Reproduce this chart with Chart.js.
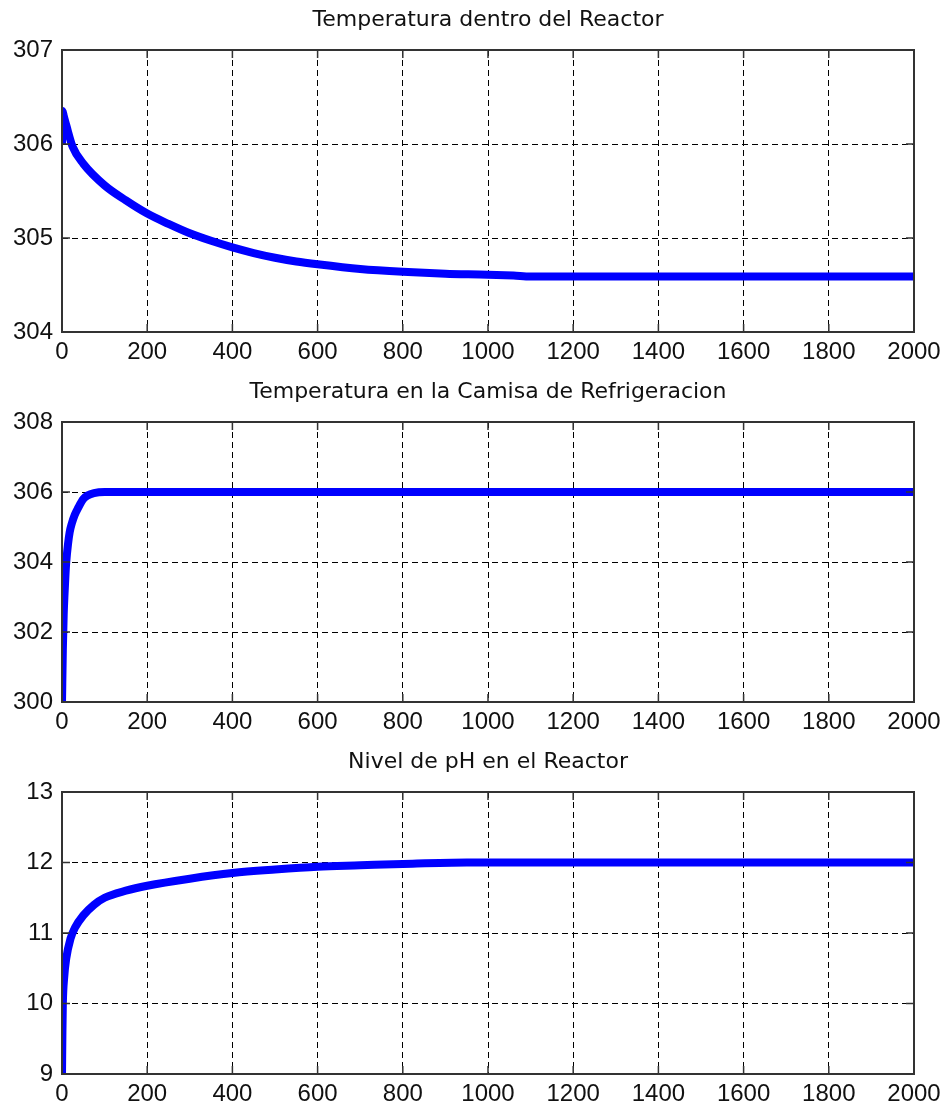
<!DOCTYPE html>
<html>
<head>
<meta charset="utf-8">
<script src="https://cdn.jsdelivr.net/npm/chart.js@4/dist/chart.umd.min.js"></script>
<style>
  body { margin: 0; background: #fff; }
  .box { position: absolute; left: 0; width: 944px; }
</style>
</head>
<body>
<div class="box" style="top:0px;height:370px"><canvas id="c1"></canvas></div>
<div class="box" style="top:372px;height:370px"><canvas id="c2"></canvas></div>
<div class="box" style="top:742px;height:367px"><canvas id="c3"></canvas></div>
<script>
// reactor temperature
var tReactor = [0, 1, 4, 10, 25, 50, 100, 150, 200, 250, 300, 350, 400, 450, 500, 550, 600, 700, 800, 900, 1000, 1060, 1100, 1200, 1400, 1600, 1800, 2000];
var tempReactor = [306.0, 306.35, 306.3, 306.2, 305.97, 305.79, 305.56, 305.4, 305.26, 305.15, 305.05, 304.97, 304.9, 304.84, 304.79, 304.75, 304.72, 304.67, 304.64, 304.62, 304.61, 304.6, 304.59, 304.59, 304.59, 304.59, 304.59, 304.59];

// cooling jacket temperature
var tJacket = [0, 2, 4, 6, 8, 10, 14, 18, 23, 30, 38, 50, 60, 75, 100, 2000];
var tempJacket = [300, 301.5, 302.5, 303.1, 303.6, 304.0, 304.5, 304.85, 305.1, 305.35, 305.55, 305.8, 305.9, 305.97, 306, 306];

// pH
var tPh = [0, 1, 2, 5, 10, 20, 30, 50, 75, 100, 150, 200, 300, 400, 500, 600, 700, 800, 950, 1200, 2000];
var phLevel = [9.0, 9.6, 10.0, 10.36, 10.64, 10.92, 11.07, 11.25, 11.4, 11.5, 11.6, 11.67, 11.77, 11.85, 11.9, 11.94, 11.96, 11.98, 12.0, 12.0, 12.0];

var xTicks = [0, 200, 400, 600, 800, 1000, 1200, 1400, 1600, 1800, 2000];

var titles = ['Temperatura dentro del Reactor', 'Temperatura en la Camisa de Refrigeracion', 'Nivel de pH en el Reactor'];

// box + inner ticks like matlab
var boxPlugin = {
  id: 'box',
  afterDraw: function(chart) {
    var a = chart.chartArea, ctx = chart.ctx;
    var xs = chart.scales.x, ys = chart.scales.y;
    ctx.save();
    ctx.strokeStyle = '#333';
    ctx.lineWidth = 2;
    ctx.strokeRect(a.left, a.top, a.right - a.left, a.bottom - a.top);
    ctx.lineWidth = 1.5;
    ctx.beginPath();
    xs.ticks.forEach(function(t) {
      var px = xs.getPixelForValue(t.value);
      ctx.moveTo(px, a.top); ctx.lineTo(px, a.top + 8);
      ctx.moveTo(px, a.bottom); ctx.lineTo(px, a.bottom - 8);
    });
    ys.ticks.forEach(function(t) {
      var py = ys.getPixelForValue(t.value);
      ctx.moveTo(a.left, py); ctx.lineTo(a.left + 8, py);
      ctx.moveTo(a.right, py); ctx.lineTo(a.right - 8, py);
    });
    ctx.stroke();
    ctx.restore();
  }
};

function makeChart(id, title, xs, ys, yMin, yMax, yStep, xAxisH) {
  var pts = [];
  for (var i = 0; i < xs.length; i++) pts.push({x: xs[i], y: ys[i]});
  return new Chart(document.getElementById(id), {
    type: 'line',
    data: {
      datasets: [{
        data: pts,
        borderColor: '#0000ff',
        borderWidth: 8,
        pointRadius: 0,
        cubicInterpolationMode: 'monotone'
      }]
    },
    options: {
      responsive: true,
      maintainAspectRatio: false,
      animation: false,
      layout: { padding: { left: 0, right: 30, top: 0, bottom: 0 } },
      plugins: {
        legend: { display: false },
        tooltip: { enabled: false },
        title: {
          display: true,
          fullSize: false,
          text: title,
          color: '#111',
          font: { family: 'DejaVu Sans', size: 22, weight: 'normal' },
          padding: { top: 7, bottom: 16.6 }
        }
      },
      scales: {
        x: {
          type: 'linear',
          min: 0, max: 2000,
          afterBuildTicks: function(s) { s.ticks = xTicks.map(function(v) { return {value: v}; }); },
          afterFit: function(s) { s.height = xAxisH; s.paddingLeft = 0; s.paddingRight = 0; },
          grid: { color: '#000', lineWidth: 1, drawTicks: false },
          border: { display: false, dash: [6, 4] },
          ticks: { color: '#111', padding: 6, maxRotation: 0, autoSkip: false,
                   callback: function(v) { return String(v); },
                   font: { family: 'Liberation Sans', size: 24 } }
        },
        y: {
          min: yMin, max: yMax,
          afterFit: function(s) { s.width = 62; },
          grid: { color: '#000', lineWidth: 1, drawTicks: false },
          border: { display: false, dash: [6, 4] },
          ticks: { stepSize: yStep, color: '#111', padding: 9,
                   callback: function(v) { return String(v); },
                   font: { family: 'Liberation Sans', size: 24 } }
        }
      }
    },
    plugins: [boxPlugin]
  });
}

makeChart('c1', titles[0], tReactor, tempReactor, 304, 307, 1, 38);
makeChart('c2', titles[1], tJacket, tempJacket, 300, 308, 2, 40);
makeChart('c3', titles[2], tPh, phLevel, 9, 13, 1, 35);
</script>
</body>
</html>
